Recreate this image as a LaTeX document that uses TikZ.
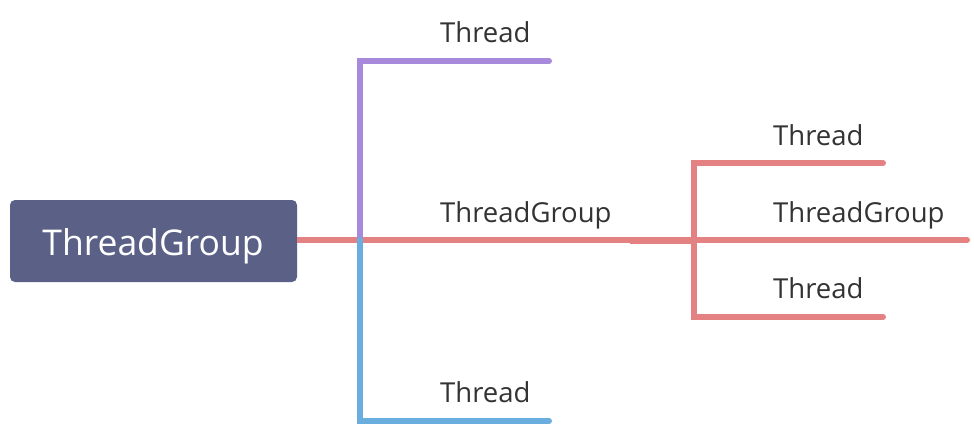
\documentclass[tikz,border=0pt]{standalone}
\usepackage{fontspec}
\setmainfont{Open Sans}
\definecolor{rootfill}{HTML}{5A6086}
\definecolor{redline}{HTML}{E48283}
\definecolor{purpleline}{HTML}{A88ADC}
\definecolor{blueline}{HTML}{6AAEE0}
\definecolor{txt}{HTML}{333333}
\begin{document}
\begin{tikzpicture}[x=1pt,y=-1pt,
  branch/.style={line width=6pt,line cap=round,line join=miter},
  lbl/.style={anchor=base west,inner sep=0pt,text=txt,font=\fontsize{27.5}{30}\selectfont},
  rootbox/.style={fill=rootfill,rounded corners=5pt,minimum width=287pt,minimum height=82pt,inner sep=0pt,text=white,font=\fontsize{35.5}{40}\selectfont}]
\useasboundingbox (0,0) rectangle (974,426);
\node[rootbox] (root) at (153.5,241) {};
\node[anchor=base,inner sep=0pt,text=white,font=\fontsize{35.5}{40}\selectfont] (roottext) at (153,255) {ThreadGroup};
% coordinates
\coordinate (j1) at (360,240);
\coordinate (pTop) at (360,61);
\coordinate (pEnd) at (549,61);
\coordinate (bBot) at (360,421);
\coordinate (bEnd) at (549,421);
\coordinate (mid) at (630,240);
\coordinate (j2) at (694,240);
\coordinate (r1) at (694,163);
\coordinate (r1e) at (883,163);
\coordinate (r2e) at (967,240);
\coordinate (r3) at (694,317);
\coordinate (r3e) at (883,317);
% branches
\draw[branch,redline,line cap=butt] (root.east |- j1) -- (j2);
\draw[branch,redline,line width=7pt,line cap=butt] (mid) -- (j2);
\draw[branch,purpleline] (j1) -- (pTop) -- (pEnd);
\draw[branch,blueline] (j1) -- (bBot) -- (bEnd);
\draw[branch,redline] (r1e) -- (r1) -- (r3) -- (r3e);
\draw[branch,redline] (j2) -- (r2e);
% labels
\node[lbl] (t1) at (440,42) {Thread};
\node[lbl] (tg1) at (440,222) {ThreadGroup};
\node[lbl] (t2) at (440,402) {Thread};
\node[lbl] (t3) at (773,145) {Thread};
\node[lbl] (tg2) at (773,222) {ThreadGroup};
\node[lbl] (t4) at (773,298) {Thread};
\end{tikzpicture}
\end{document}
